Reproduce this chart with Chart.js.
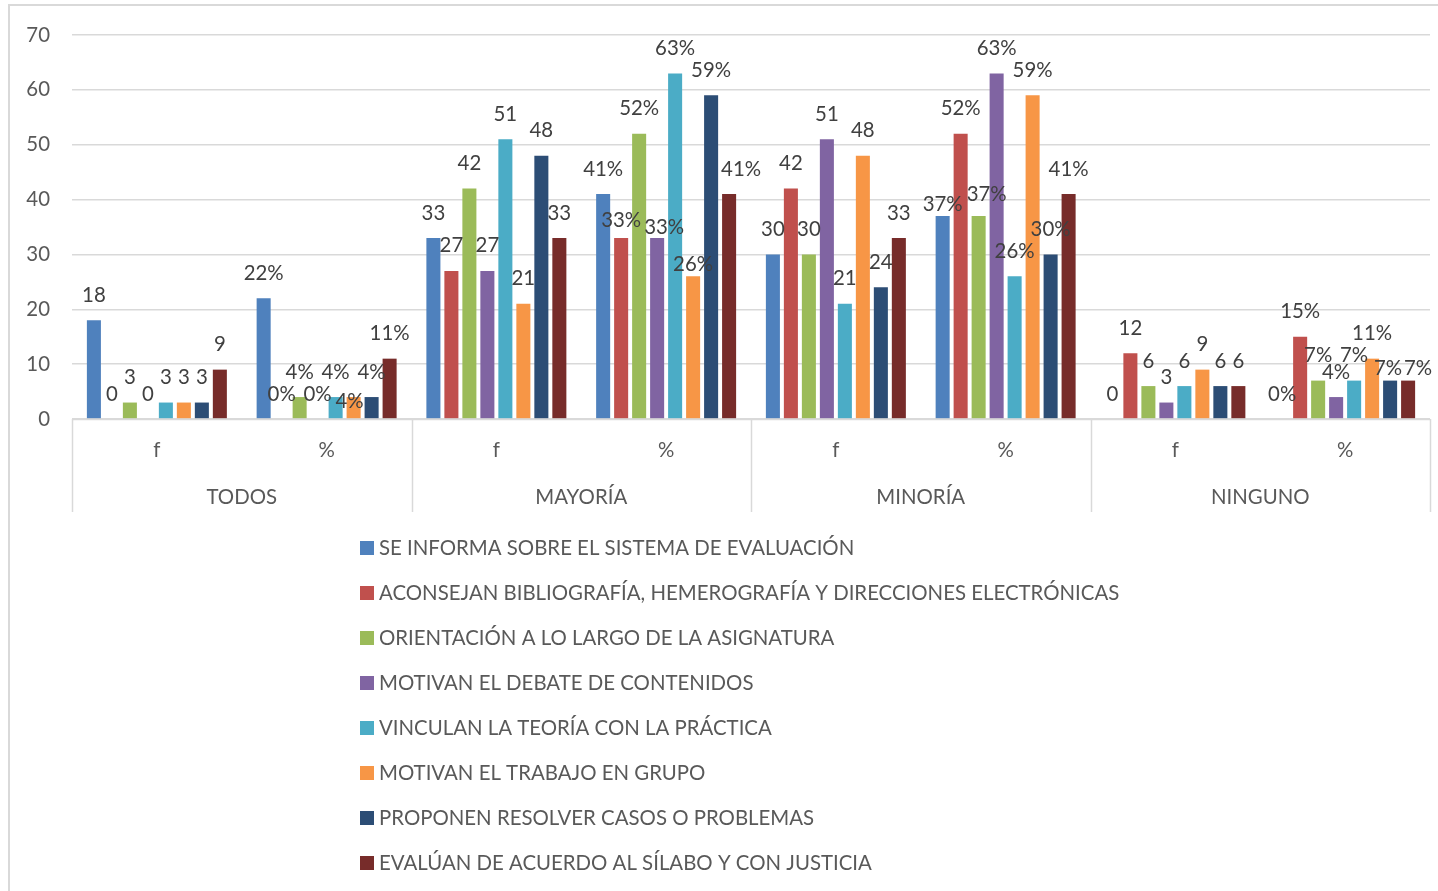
<!DOCTYPE html>
<html>
<head>
<meta charset="utf-8">
<script src="https://cdn.jsdelivr.net/npm/chart.js@4"></script>
<style>
  html, body { margin: 0; padding: 0; background: #fff; }
  #wrap { width: 1438px; height: 891px; position: relative; }
</style>
</head>
<body>
<div id="wrap"><canvas id="chart" width="1438" height="891"></canvas></div>
<script>
const categories = ['f', '%', 'f', '%', 'f', '%', 'f', '%'];
const groups = ['TODOS', 'MAYORÍA', 'MINORÍA', 'NINGUNO'];
const seriesNames = [
  'SE INFORMA SOBRE EL SISTEMA DE EVALUACIÓN',
  'ACONSEJAN BIBLIOGRAFÍA, HEMEROGRAFÍA Y DIRECCIONES ELECTRÓNICAS',
  'ORIENTACIÓN A LO LARGO DE LA ASIGNATURA',
  'MOTIVAN EL DEBATE DE CONTENIDOS',
  'VINCULAN LA TEORÍA CON LA PRÁCTICA',
  'MOTIVAN EL TRABAJO EN GRUPO',
  'PROPONEN RESOLVER CASOS O PROBLEMAS',
  'EVALÚAN DE ACUERDO AL SÍLABO Y CON JUSTICIA'
];
const informa     = [18, 22, 33, 41, 30, 37, 0, 0];
const aconsejan   = [0, 0, 27, 33, 42, 52, 12, 15];
const orientacion = [3, 4, 42, 52, 30, 37, 6, 7];
const debate      = [0, 0, 27, 33, 51, 63, 3, 4];
const vinculan    = [3, 4, 51, 63, 21, 26, 6, 7];
const trabajo     = [3, 4, 21, 26, 48, 59, 9, 11];
const proponen    = [3, 4, 48, 59, 24, 30, 6, 7];
const evaluan     = [9, 11, 33, 41, 33, 41, 6, 7];
const yMin = 0, yMax = 70, yStep = 10;

const seriesValues = [informa, aconsejan, orientacion, debate, vinculan, trabajo, proponen, evaluan];
const colors = ['#4F81BD', '#C0504D', '#9BBB59', '#8064A2', '#4BACC6', '#F79646', '#2C4D75', '#772C2A'];

const FONT = 'Lato, "Open Sans", sans-serif';
const FONT_SIZE = 20.4;
const TEXT = '#595959';
const LINE = '#d9d9d9';

// labels that were moved by hand so they don't sit on top of each other: "dataset,index" -> [dx, dy]
const labelNudge = {
  '5,1': [-4, 29],
  '1,3': [0, 7],
  '3,3': [7, 14],
  '5,3': [0, 13],
  '7,3': [12, 0],
  '0,5': [0, 13],
  '2,5': [8, 3],
  '6,7': [-2, 13],
  '7,7': [10, 13]
};

const barLabels = {
  id: 'barLabels',
  afterDatasetsDraw(chart) {
    const ctx = chart.ctx;
    ctx.save();
    ctx.font = FONT_SIZE + 'px ' + FONT;
    ctx.fillStyle = '#404040';
    ctx.textAlign = 'center';
    ctx.textBaseline = 'middle';
    chart.data.datasets.forEach((ds, i) => {
      chart.getDatasetMeta(i).data.forEach((bar, j) => {
        const txt = ds.data[j] + (categories[j] === '%' ? '%' : '');
        const n = labelNudge[i + ',' + j] || [0, 0];
        ctx.fillText(txt, bar.x + n[0], bar.y - 25 + n[1]);
      });
    });
    ctx.restore();
  }
};

// two-level category axis, chart frame and the legend list underneath
const frameAndAxis = {
  id: 'frameAndAxis',
  afterDraw(chart) {
    const ctx = chart.ctx;
    const area = chart.chartArea;
    const x = chart.scales.x;
    const catW = (area.right - area.left) / categories.length;
    ctx.save();

    ctx.strokeStyle = LINE;
    ctx.lineWidth = 2;
    ctx.beginPath();
    ctx.moveTo(9, 891);
    ctx.lineTo(9, 5);
    ctx.lineTo(1438, 5);
    ctx.stroke();

    ctx.lineWidth = 1.5;
    ctx.beginPath();
    ctx.moveTo(area.left, area.bottom + 0.5);
    ctx.lineTo(area.right, area.bottom + 0.5);
    for (let g = 0; g <= groups.length; g++) {
      const sx = Math.round(area.left + g * 2 * catW) + 0.5;
      ctx.moveTo(sx, area.bottom);
      ctx.lineTo(sx, area.bottom + 93);
    }
    ctx.stroke();

    ctx.font = FONT_SIZE + 'px ' + FONT;
    ctx.fillStyle = TEXT;
    ctx.textAlign = 'center';
    ctx.textBaseline = 'middle';
    categories.forEach((c, i) => {
      ctx.fillText(c, x.getPixelForValue(i), area.bottom + 31);
    });
    groups.forEach((g, i) => {
      const cx = (x.getPixelForValue(2 * i) + x.getPixelForValue(2 * i + 1)) / 2;
      ctx.fillText(g, cx, area.bottom + 78);
    });

    ctx.textAlign = 'left';
    chart.data.datasets.forEach((ds, i) => {
      const ly = 548 + i * 45;
      ctx.fillStyle = ds.backgroundColor;
      ctx.fillRect(360, ly - 7, 14, 14);
      ctx.fillStyle = TEXT;
      ctx.fillText(ds.label, 379, ly);
    });
    ctx.restore();
  }
};

new Chart(document.getElementById('chart').getContext('2d'), {
  type: 'bar',
  data: {
    labels: categories,
    datasets: seriesValues.map((vals, i) => ({
      label: seriesNames[i],
      data: vals,
      backgroundColor: colors[i],
      borderWidth: 0,
      barPercentage: 0.78,
      categoryPercentage: 0.848
    }))
  },
  options: {
    responsive: false,
    animation: false,
    layout: { padding: { left: 0, right: 8, top: 35, bottom: 472 } },
    plugins: {
      legend: { display: false },
      tooltip: { enabled: false }
    },
    scales: {
      x: { display: false },
      y: {
        min: yMin,
        max: yMax,
        afterFit(scale) { scale.width = 72; },
        ticks: {
          stepSize: yStep,
          padding: 22,
          color: TEXT,
          font: { family: FONT, size: FONT_SIZE }
        },
        border: { display: false },
        grid: { color: LINE, lineWidth: 1.5, drawTicks: false }
      }
    }
  },
  plugins: [barLabels, frameAndAxis]
});
</script>
</body>
</html>
